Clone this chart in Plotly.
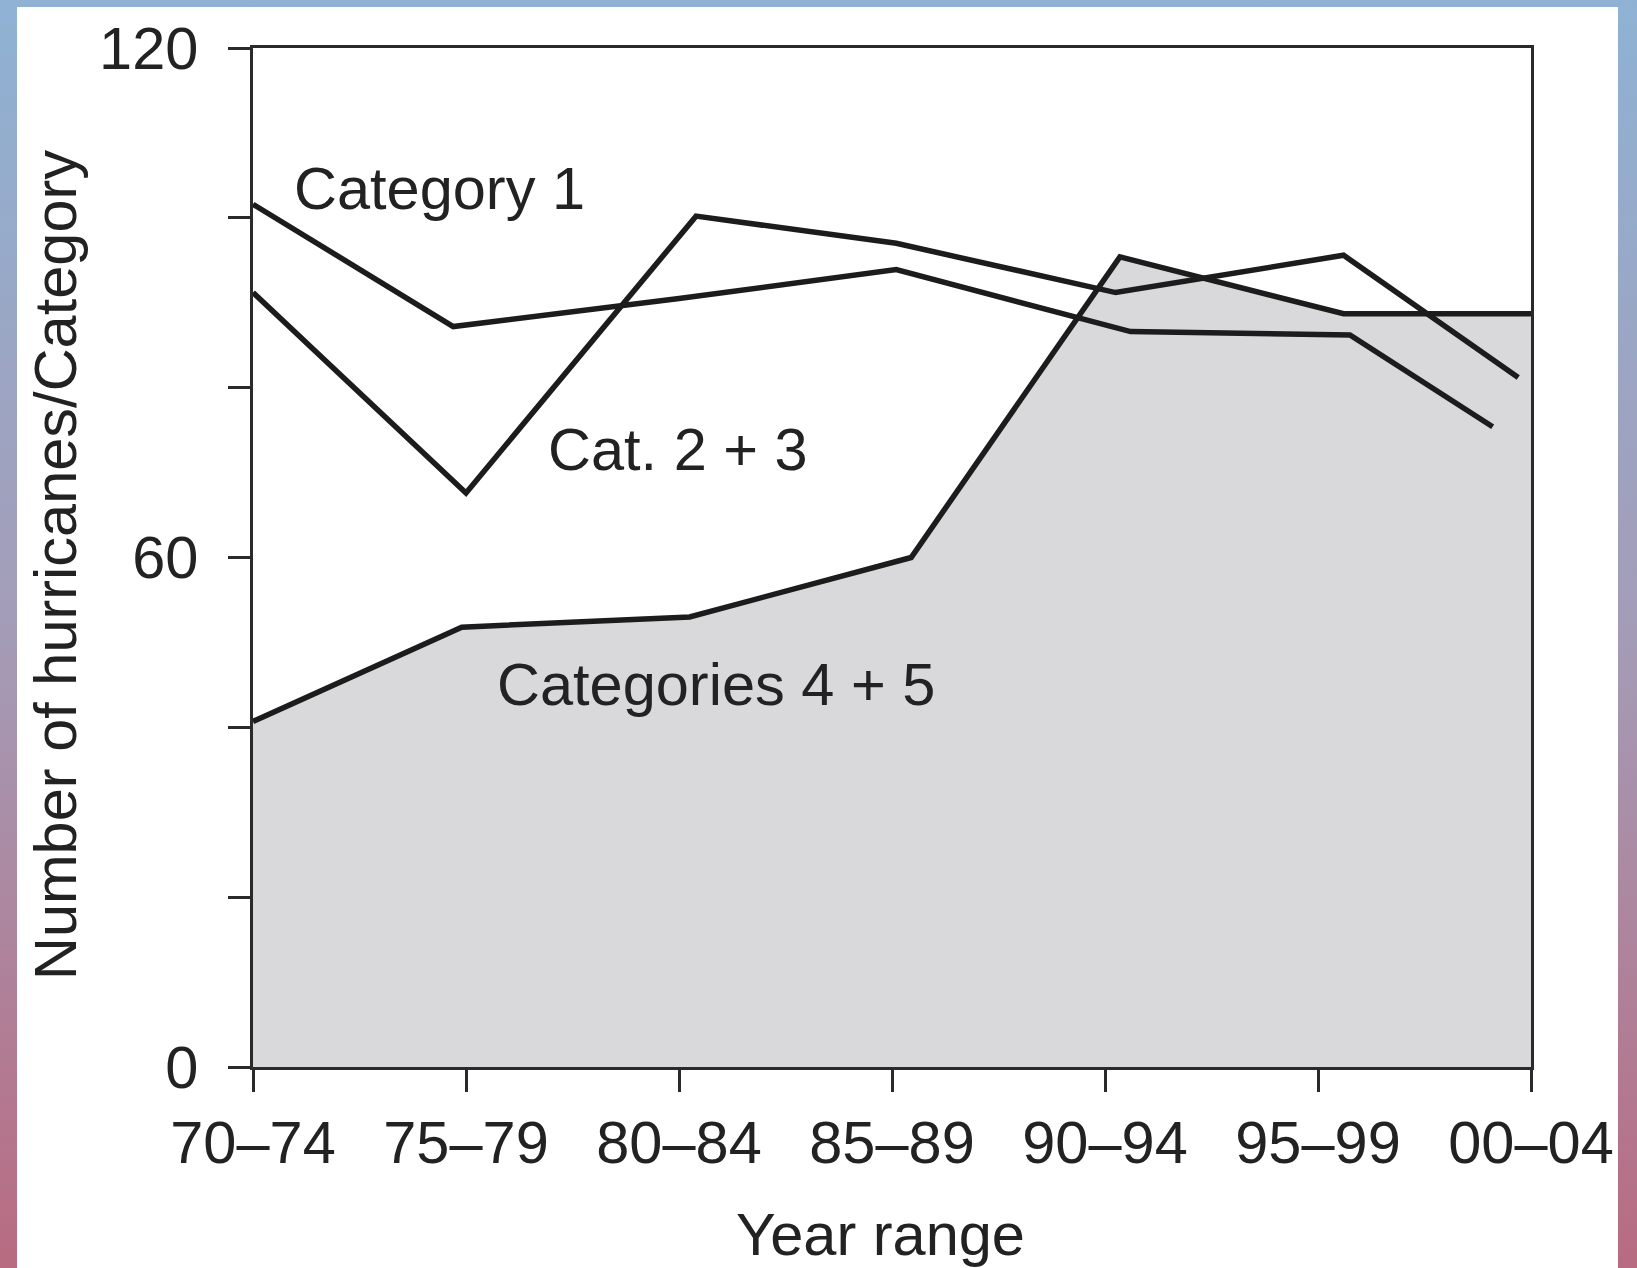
import base64
import plotly.graph_objects as go

# ---- data ----
year_labels = ["70–74", "75–79", "80–84", "85–89", "90–94", "95–99", "00–04"]
year_pos = [0, 1, 2, 3, 4, 5, 6]

cat1_x = [0, 0.94, 2.0, 3.02, 4.12, 5.15, 5.82]
cat1_y = [101.6, 87.2, 90.5, 93.9, 86.6, 86.2, 75.4]

cat23_x = [0, 1.0, 2.08, 3.02, 4.05, 5.12, 5.94]
cat23_y = [91.2, 67.6, 100.2, 97.0, 91.2, 95.6, 81.2]

cat45_x = [0, 0.98, 2.05, 3.09, 4.07, 5.12, 6]
cat45_y = [40.7, 51.8, 53.0, 60.0, 95.4, 88.7, 88.7]

y_ticks = [0, 20, 40, 60, 80, 100, 120]
y_ticktext = ["0", "", "", "60", "", "", "120"]

W, H = 1637, 1268
L, R, T, B = 253, 106, 48, 201
PW, PH = W - L - R, H - T - B

FONT = "Liberation Sans, Arial, Helvetica, sans-serif"
INK = "#1c1c1c"
FS = 59.5
LW = 5.5

fig = go.Figure()

fig.add_trace(go.Scatter(
    x=cat45_x, y=cat45_y, mode="lines", fill="tozeroy",
    fillcolor="#d9d9dc", line=dict(color=INK, width=LW),
    name="Categories 4 + 5", showlegend=False))
fig.add_trace(go.Scatter(
    x=cat23_x, y=cat23_y, mode="lines",
    line=dict(color=INK, width=LW),
    name="Cat. 2 + 3", showlegend=False))
fig.add_trace(go.Scatter(
    x=cat1_x, y=cat1_y, mode="lines",
    line=dict(color=INK, width=LW),
    name="Category 1", showlegend=False))

# background: gradient border with white panel
svg = (
    f"<svg xmlns='http://www.w3.org/2000/svg' width='{W}' height='{H}' "
    f"viewBox='0 0 {W} {H}' preserveAspectRatio='none'>"
    "<defs><linearGradient id='g' x1='0' y1='0' x2='0' y2='1'>"
    "<stop offset='0' stop-color='#8fb2d4'/>"
    "<stop offset='0.5' stop-color='#a49cb7'/>"
    "<stop offset='1' stop-color='#b86b81'/>"
    "</linearGradient></defs>"
    f"<rect width='{W}' height='{H}' fill='url(#g)'/>"
    f"<rect x='17' y='7' width='{1618-17}' height='{H-7}' fill='#ffffff'/>"
    "</svg>"
)
src = "data:image/svg+xml;base64," + base64.b64encode(svg.encode()).decode()
fig.add_layout_image(dict(
    source=src, xref="paper", yref="paper",
    x=-L / PW, y=1 + T / PH, sizex=W / PW, sizey=H / PH,
    xanchor="left", yanchor="top", sizing="stretch", layer="below"))

def px_to_paper_x(px):
    return (px - L) / PW

def px_to_paper_y(py):
    return (H - B - py) / PH

text_font = dict(family=FONT, size=FS, color="#222222")

annotations = [
    dict(text="Category 1", x=px_to_paper_x(292), y=px_to_paper_y(188)),
    dict(text="Cat. 2 + 3", x=px_to_paper_x(546), y=px_to_paper_y(449)),
    dict(text="Categories 4 + 5", x=px_to_paper_x(495), y=px_to_paper_y(684)),
]
for a in annotations:
    a.update(xref="paper", yref="paper", xanchor="left", yanchor="middle",
             showarrow=False, font=text_font)

annotations.append(dict(
    text="Year range", xref="paper", yref="paper",
    x=px_to_paper_x(880), y=px_to_paper_y(1234),
    xanchor="center", yanchor="middle", showarrow=False, font=text_font))
annotations.append(dict(
    text="Number of hurricanes/Category", xref="paper", yref="paper",
    x=px_to_paper_x(55), y=px_to_paper_y(565), textangle=-90,
    xanchor="center", yanchor="middle", showarrow=False, font=text_font))

fig.update_layout(
    width=W, height=H,
    margin=dict(l=L, r=R, t=T, b=B, pad=0),
    paper_bgcolor="#ffffff",
    plot_bgcolor="rgba(0,0,0,0)",
    annotations=annotations,
    showlegend=False,
)

axis_common = dict(
    showgrid=False, zeroline=False, showline=True, linecolor="#2a2a2a",
    linewidth=2.5, mirror=True, ticks="outside", ticklen=22, tickwidth=2.5,
    tickcolor="#2a2a2a", tickfont=dict(family=FONT, size=FS, color="#222222"),
)

fig.update_xaxes(range=[0, 6], tickmode="array", tickvals=year_pos,
                 ticktext=year_labels, ticklabelstandoff=0, **axis_common)
fig.update_yaxes(range=[0, 120], tickmode="array", tickvals=y_ticks,
                 ticktext=y_ticktext, ticklabelstandoff=18, **axis_common)

fig.write_html(
    "out.html",
    config={"displayModeBar": False},
    post_script="document.body.style.margin='0';document.body.style.padding='0';",
)
